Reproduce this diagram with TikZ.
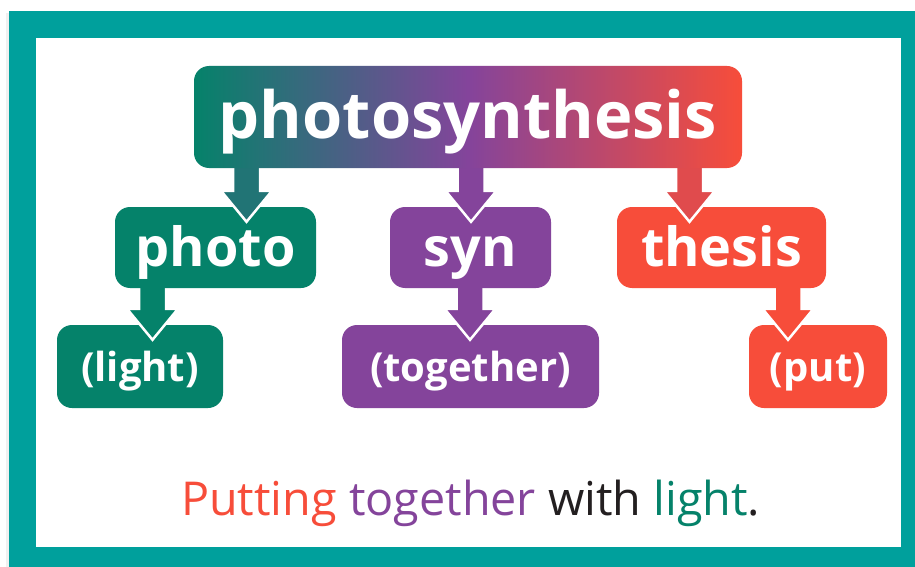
\documentclass[tikz,border=0pt]{standalone}
\usepackage{fontspec}
\setmainfont{Open Sans}
\usetikzlibrary{calc}
\definecolor{G}{RGB}{5,130,106}
\definecolor{P}{RGB}{132,68,155}
\definecolor{R}{RGB}{247,77,58}
\definecolor{T}{RGB}{0,160,156}
\definecolor{K}{RGB}{35,31,32}
\pgfdeclarelayer{backdrop}
\pgfdeclarelayer{lowest}
\pgfdeclarelayer{middle}
\pgfsetlayers{backdrop,lowest,middle,main}
\tikzset{
  wordbox/.style={rounded corners=15pt, inner sep=0pt, text=white},
  rootbox/.style={wordbox, minimum width=548pt, minimum height=102pt, text height=60pt, text depth=16pt, font=\bfseries\fontsize{65}{72}\selectfont},
  lvltwo/.style={wordbox, minimum height=81pt, text height=50pt, text depth=13pt, font=\bfseries\fontsize{54}{60}\selectfont},
  lvlthree/.style={wordbox, minimum height=83pt, text height=40pt, text depth=11pt, font=\bfseries\fontsize{40}{46}\selectfont},
  arrowshape/.style={draw=white, line width=2.5pt, line join=miter}
}
\newcommand{\fatarrow}[4]{%
  \coordinate (#1-#2-s) at (#3,0 |- #1.south);
  \coordinate (#1-#2-e) at (#3,0 |- #2.north);
  \filldraw[arrowshape, fill=#4]
    ([shift={(-13.5,-12)}]#1-#2-s) -- ([shift={(-13.5,-16)}]#1-#2-e)
    -- ([shift={(-25.5,-16)}]#1-#2-e) -- ([shift={(0,15)}]#1-#2-e)
    -- ([shift={(25.5,-16)}]#1-#2-e) -- ([shift={(13.5,-16)}]#1-#2-e)
    -- ([shift={(13.5,-12)}]#1-#2-s) -- cycle;
}
\begin{document}
\begin{tikzpicture}[x=1pt,y=-1pt]
\useasboundingbox (0,0) rectangle (915,567);
\begin{pgfonlayer}{backdrop}
\fill[white] (0,0) rectangle (915,567);
\fill[black!6] (6,13) rectangle (9,567);
\fill[T] (9,11) rectangle (915,567);
\fill[white] (36,38) rectangle (901,547);
\end{pgfonlayer}
% nodes
\node[rootbox, left color=G, right color=R, middle color=P] (root) at (468,117) {photosynthesis};
\begin{pgfonlayer}{middle}
\node[lvltwo, fill=G, minimum width=201pt] (photo) at (215.5,247.5) {photo};
\node[lvltwo, fill=P, minimum width=161pt] (syn) at (470.5,247.5) {syn};
\node[lvltwo, fill=R, minimum width=209pt] (thesis) at (721.5,247.5) {thesis};
\fatarrow{root}{photo}{246.5}{G!78!P}
\fatarrow{root}{syn}{471}{P}
\fatarrow{root}{thesis}{689.5}{R!80!P}
\end{pgfonlayer}
\begin{pgfonlayer}{lowest}
\node[lvlthree, fill=G, minimum width=166pt] (light) at (140,366.5) {(light)};
\node[lvlthree, fill=P, minimum width=257pt] (together) at (470.5,366.5) {(together)};
\node[lvlthree, fill=R, minimum width=138pt] (put) at (818,366.5) {(put)};
\fatarrow{photo}{light}{152.5}{G}
\fatarrow{syn}{together}{470}{P}
\fatarrow{thesis}{put}{788}{R}
\end{pgfonlayer}
\node[anchor=base west, inner sep=0pt, font=\fontsize{46.7}{52}\selectfont] (caption) at (181,515)
  {\textcolor{R}{Putting} \textcolor{P}{together} \textcolor{K}{with} \textcolor{G}{light}\textcolor{K}{.}};
\end{tikzpicture}
\end{document}
